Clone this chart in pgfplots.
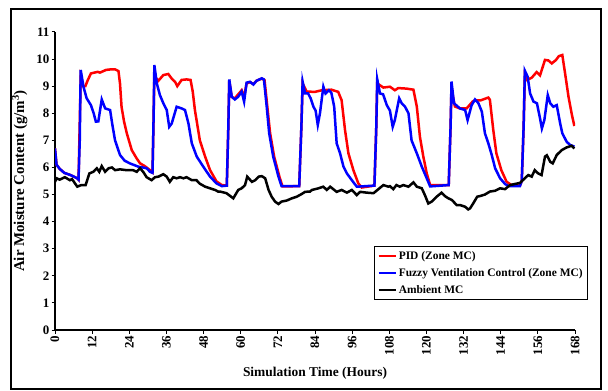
\documentclass[border=0pt]{standalone}
\usepackage{fontspec}
\setmainfont{Liberation Serif}
\usepackage{pgfplots}
\pgfplotsset{compat=1.18}
\begin{document}
\begin{tikzpicture}
\useasboundingbox (0,0) rectangle (608bp,391bp);
\draw[line width=1.5bp] (11bp,2bp) rectangle (601bp,382bp);
\begin{axis}[
  at={(55bp,61bp)}, anchor=south west,
  width=520bp, height=298bp, scale only axis,
  xmin=0, xmax=168, ymin=0, ymax=11,
  axis x line=bottom, axis y line=left,
  every outer x axis line/.append style={-, line width=2.8bp},
  every outer y axis line/.append style={-, line width=2.8bp},
  xtick={0,12,...,168}, ytick={0,1,...,11},
  tick align=outside, major tick length=3.5bp,
  tick style={line width=1bp, black},
  /pgf/number format/assume math mode=true,
  ticklabel style={font=\bfseries\fontsize{13}{15}\selectfont},
  xticklabel style={rotate=90, anchor=east, inner sep=2bp},
  yticklabel style={inner sep=2bp},
  xlabel={Simulation Time (Hours)},
  ylabel={Air Moisture Content (g/m\textsuperscript{3})},
  xlabel style={at={(axis description cs:0.5,-0.144)}, anchor=center, font=\bfseries\fontsize{13.5}{15}\selectfont},
  ylabel style={at={(axis description cs:-0.068,0.5)}, anchor=center, font=\bfseries\fontsize{15}{17}\selectfont},
  legend style={at={(axis description cs:0.613,0.282)}, anchor=north west, draw=black, line width=1bp,
    font=\bfseries\fontsize{11.5}{13.5}\selectfont, row sep=3.5bp, inner sep=3bp, cells={anchor=west}},
  legend image code/.code={\draw[#1, line width=2.5bp] (0bp,0bp) -- (17bp,0bp);},
]
\addplot[red, line width=2.5bp] coordinates {
(0,6.7)(0.5,6.1)(1.5,5.95)(3,5.8)(5,5.72)(7.2,5.6)(7.6,5.55)(8.3,9.3)(9.0,9.0)(9.8,9.0)(10.5,9.2)(11.6,9.47)(13.8,9.53)(14.5,9.5)(15.5,9.55)(16.5,9.6)(18,9.62)(19.4,9.62)(20.5,9.56)(21.0,9.1)(21.5,8.24)(22.3,7.7)(23.2,7.26)(24.8,6.64)(26.4,6.33)(27.5,6.15)(29,6.05)(30.7,5.9)(31.5,5.82)(31.8,7.5)(32.1,9.37)(33.4,9.2)(35,9.41)(36.6,9.45)(37.7,9.28)(38.8,9.16)(39.5,9.0)(40.9,9.23)(42.5,9.25)(43.8,9.23)(44.5,8.8)(45.2,8.12)(46.8,7.0)(48.5,6.4)(50.1,5.9)(52.2,5.48)(53.9,5.35)(55.5,5.33)(56.0,7.5)(56.3,9.2)(57.1,8.6)(58.1,8.55)(59.2,8.7)(60.3,8.85)(61.1,8.6)(61.9,9.1)(63,9.15)(64.1,9.08)(65.1,9.2)(66.8,9.28)(67.7,9.22)(68.6,8.24)(69.5,7.26)(70.8,6.4)(72.5,5.66)(73.5,5.3)(78.9,5.31)(79.6,7.5)(80.0,9.1)(81.3,8.8)(84,8.79)(86.2,8.85)(89.3,8.87)(91.5,8.79)(92.6,8.48)(93.7,7.38)(94.8,6.52)(96.4,5.9)(98,5.41)(99.1,5.26)(103.2,5.33)(103.8,7.5)(104.1,9.1)(106.1,8.95)(108.2,8.98)(109.8,8.85)(110.9,8.93)(113.6,8.91)(115.8,8.87)(116.9,8.24)(117.9,7.13)(119,6.4)(120.1,5.78)(121.2,5.35)(127.2,5.35)(127.8,7.5)(128.1,9.0)(128.6,8.6)(129.2,8.25)(130.8,8.18)(133,8.18)(134.9,8.43)(135.7,8.48)(137.6,8.48)(140,8.58)(140.5,8.5)(141.6,7.38)(142.6,6.52)(144.2,5.9)(145.9,5.47)(147.5,5.35)(150.2,5.33)(150.8,5.5)(151.4,7.5)(151.8,9.4)(152.4,9.23)(154,9.31)(155.6,9.52)(156.7,9.4)(158.3,9.97)(159.4,9.95)(160.5,9.84)(161.8,9.96)(162.8,10.11)(163.9,10.15)(164.8,9.47)(165.9,8.61)(167,7.94)(167.8,7.53)
};
\addlegendentry{PID (Zone MC)}
\addplot[blue, line width=2.5bp] coordinates {
(0,6.7)(0.5,6.1)(1.5,5.95)(3,5.8)(5,5.72)(7.2,5.6)(7.6,5.55)(8.0,7.0)(8.3,9.6)(9.2,8.98)(10.2,8.56)(11.6,8.3)(12.5,8.0)(13.2,7.69)(14.0,7.7)(15.1,8.51)(16.2,8.18)(17.8,8.12)(18.5,7.6)(19.4,7.0)(21.0,6.46)(22.5,6.25)(24.2,6.15)(26.9,6.03)(29.6,5.97)(30.7,5.84)(31.5,5.8)(31.8,7.5)(32.1,9.78)(32.9,9.1)(33.9,8.67)(35.0,8.37)(36.1,8.12)(36.9,7.5)(37.7,7.62)(39.3,8.24)(40.9,8.18)(42.0,8.12)(43.1,7.63)(44.2,6.89)(45.8,6.4)(47.9,6.03)(50.1,5.66)(52.2,5.41)(53.9,5.31)(55.5,5.33)(56.0,7.5)(56.3,9.25)(57.1,8.61)(58.1,8.51)(59.2,8.61)(60.3,8.8)(61.1,8.43)(61.9,9.13)(63.0,9.16)(64.1,9.06)(65.1,9.2)(66.8,9.29)(67.5,9.25)(68.4,8.24)(69.2,7.26)(70.5,6.4)(72.2,5.66)(73.2,5.31)(78.9,5.31)(79.6,7.5)(80.0,9.17)(80.8,8.73)(81.8,8.73)(82.6,8.55)(83.5,8.24)(84.2,8.1)(84.9,7.57)(85.6,8.0)(86.7,8.98)(87.4,8.73)(88.5,8.85)(89.3,8.75)(90.2,8.24)(91.0,6.89)(92.1,6.52)(93.2,6.03)(94.3,5.78)(95.9,5.53)(97.5,5.29)(103.2,5.33)(103.8,7.5)(104.1,9.26)(105.0,8.73)(106.0,8.7)(107.2,8.3)(108.2,8.1)(109.1,7.5)(109.8,7.75)(111.2,8.55)(112,8.37)(113.1,8.24)(114.2,8.0)(115.2,7.0)(116.9,6.52)(118.5,6.03)(120.1,5.6)(121.2,5.3)(127.2,5.35)(127.8,7.5)(128.1,9.17)(128.9,8.37)(130.8,8.18)(132.5,8.12)(133.3,7.75)(134.6,8.3)(135.7,8.51)(136.8,8.37)(137.9,8.06)(138.9,7.26)(140,6.89)(141.1,6.46)(142.2,5.97)(143.8,5.6)(145.4,5.39)(146.5,5.31)(150.2,5.31)(150.8,5.5)(151.4,7.5)(151.8,9.57)(152.7,9.35)(153.5,8.73)(154.6,8.43)(155.7,8.37)(156.7,7.81)(157.3,7.44)(158.1,7.75)(159.2,8.67)(160,8.37)(161,8.24)(162.1,8.3)(163.2,7.63)(163.9,7.26)(165.3,6.95)(166.4,6.83)(167.8,6.77)
};
\addlegendentry{Fuzzy Ventilation Control (Zone MC)}
\addplot[black, line width=2.5bp] coordinates {
(0,5.47)(0.5,5.6)(1.5,5.55)(3.2,5.64)(4.8,5.53)(5.5,5.57)(7.2,5.29)(8.5,5.35)(9.9,5.35)(11.1,5.78)(12.4,5.84)(13.5,5.97)(14.3,5.84)(15.1,6.05)(16.2,5.84)(17.3,5.97)(18.4,6.0)(19.4,5.9)(21,5.93)(23.1,5.9)(25.2,5.9)(26.4,5.84)(27.5,5.97)(28.6,5.82)(29.6,5.64)(31.2,5.53)(32.3,5.64)(33.4,5.66)(35,5.75)(36.1,5.66)(37.1,5.47)(38.2,5.64)(39.3,5.6)(40.4,5.64)(41.5,5.6)(42.5,5.64)(44.2,5.53)(45.7,5.53)(46.8,5.4)(48.5,5.29)(50.1,5.23)(51.7,5.17)(52.7,5.11)(53.3,5.11)(55.4,5.05)(57.6,4.86)(59.2,5.17)(60.3,5.23)(61.4,5.35)(62.1,5.66)(63.6,5.47)(64.7,5.53)(65.8,5.66)(66.8,5.68)(67.9,5.6)(69,5.17)(70,4.92)(71.1,4.74)(72.2,4.65)(73.2,4.74)(74.9,4.78)(76.5,4.86)(78.1,4.92)(79.7,5.02)(80.8,5.1)(82.4,5.11)(83,5.17)(85.1,5.23)(86.7,5.29)(87.8,5.17)(88.9,5.29)(91,5.1)(92.6,5.17)(94.3,5.07)(95.9,5.17)(97.5,4.98)(98.6,5.1)(100.7,5.07)(102.9,5.05)(104.5,5.2)(106.1,5.35)(107.7,5.29)(108.2,5.31)(109.3,5.2)(110.3,5.35)(111.4,5.29)(112.5,5.35)(114.2,5.29)(115.8,5.45)(116.9,5.29)(118.5,5.23)(119.5,4.98)(120.6,4.67)(121.7,4.74)(123.3,4.92)(124.9,5.07)(126,4.94)(127.1,4.86)(128.2,4.8)(129.8,4.61)(130.9,4.61)(132.5,4.55)(133.5,4.45)(134.1,4.49)(135.1,4.67)(136.4,4.92)(137.5,4.95)(138.9,5.0)(140.5,5.11)(142.2,5.14)(143.8,5.23)(145.4,5.2)(147,5.35)(148.6,5.39)(150.2,5.43)(151.8,5.6)(152.9,5.72)(154,5.66)(155,5.9)(156.1,5.78)(157.2,5.72)(158.3,6.4)(158.9,6.45)(160,6.21)(160.8,6.15)(162.1,6.46)(163.7,6.64)(165.3,6.74)(166.9,6.8)(167.8,6.7)
};
\addlegendentry{Ambient MC}
\end{axis}
\end{tikzpicture}
\end{document}
